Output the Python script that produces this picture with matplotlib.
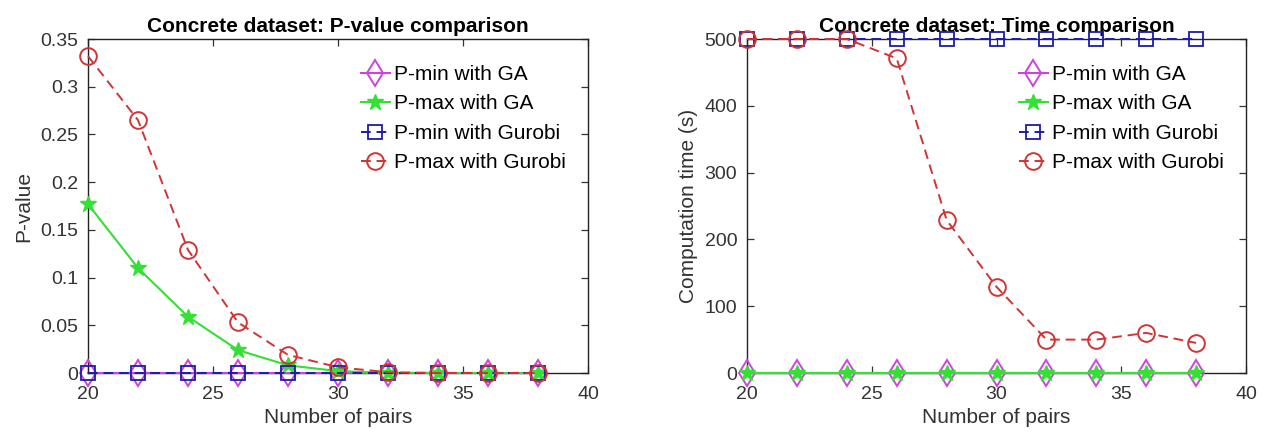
import matplotlib
matplotlib.use("Agg")
import matplotlib.pyplot as plt
from matplotlib.ticker import FixedLocator

plt.rcParams['font.family'] = ['Liberation Sans', 'DejaVu Sans']

pairs = [20, 22, 24, 26, 28, 30, 32, 34, 36, 38]

# P-value panel
pmin_ga_p = [0, 0, 0, 0, 0, 0, 0, 0, 0, 0]
pmax_ga_p = [0.177, 0.110, 0.059, 0.024, 0.008, 0.002, 0.0003, 0, 0, 0]
pmin_gu_p = [0, 0, 0, 0, 0, 0, 0, 0, 0, 0]
pmax_gu_p = [0.332, 0.265, 0.129, 0.053, 0.019, 0.006, 0.0008, 0, 0, 0]

# Time panel
pmin_ga_t = [0, 0, 0, 0, 0, 0, 0, 0, 0, 0]
pmax_ga_t = [0, 0, 0, 0, 0, 0, 0, 0, 0, 0]
pmin_gu_t = [500, 500, 500, 500, 500, 500, 500, 500, 500, 500]
pmax_gu_t = [500, 500, 500, 471, 229, 129, 50, 50, 60, 45]

labels = ["P-min with GA", "P-max with GA", "P-min with Gurobi", "P-max with Gurobi"]
titles = ["Concrete dataset: P-value comparison", "Concrete dataset: Time comparison"]
ylabels = ["P-value", "Computation time (s)"]
xlabel = "Number of pairs"
yticks_p = [0, 0.05, 0.1, 0.15, 0.2, 0.25, 0.3, 0.35]
yticklabels_p = ["0", "0.05", "0.1", "0.15", "0.2", "0.25", "0.3", "0.35"]
yticks_t = [0, 100, 200, 300, 400, 500]
xticks = [20, 25, 30, 35, 40]

c_mag = '#cc44dd'
c_grn = '#33e033'
c_blu = '#1c1ca8'
c_red = '#d03434'
txt = '#333333'

fig = plt.figure(figsize=(12.65, 4.36), dpi=100)
ax1 = fig.add_axes([88/1265, 1-373/436, 500/1265, 334/436])
ax2 = fig.add_axes([747/1265, 1-373/436, 499/1265, 334/436])

def draw(ax, s1, s2, s3, s4):
    ax.plot(pairs, s1, '-', color=c_mag, marker='d', ms=13, mfc='none', mew=1.4,
            lw=1.5, label=labels[0], clip_on=False, zorder=3)
    ax.plot(pairs, s2, '-', color=c_grn, marker='*', ms=12, mew=1.0,
            lw=1.5, label=labels[1], clip_on=False, zorder=4)
    ax.plot(pairs, s3, '--', color=c_blu, marker='s', ms=9.5, mfc='none', mew=1.3,
            lw=1.4, dashes=(5, 3), label=labels[2], clip_on=False, zorder=5)
    ax.plot(pairs, s4, '--', color=c_red, marker='o', ms=12, mfc='none', mew=1.4,
            lw=1.4, dashes=(5, 3), label=labels[3], clip_on=False, zorder=6)

draw(ax1, pmin_ga_p, pmax_ga_p, pmin_gu_p, pmax_gu_p)
draw(ax2, pmin_ga_t, pmax_ga_t, pmin_gu_t, pmax_gu_t)

for ax, t, yl in zip([ax1, ax2], titles, ylabels):
    ax.set_xlim(20, 40)
    ax.xaxis.set_major_locator(FixedLocator(xticks))
    ax.set_title(t, fontsize=15, fontweight='bold', color='black', pad=5)
    ax.set_ylabel(yl, fontsize=15, color=txt, labelpad=5)
    ax.set_xlabel(xlabel, fontsize=15, color=txt, labelpad=4)
    ax.tick_params(direction='in', top=True, right=True, length=5, width=0.9,
                   labelsize=14, colors=txt)
    ax.tick_params(axis='x', pad=9)
    ax.tick_params(axis='y', pad=7)
    for sp in ax.spines.values():
        sp.set_color('#222222')
        sp.set_linewidth(1.0)
    leg = ax.legend(loc='upper right', frameon=False, fontsize=15,
                    handlelength=1.4, handletextpad=0.2, labelspacing=0.5,
                    borderaxespad=0.0, borderpad=0.0,
                    bbox_to_anchor=(1 - 22/500, 1 - 26/334))
    for t_ in leg.get_texts():
        t_.set_color('black')

ax1.set_ylim(0, 0.35)
ax1.yaxis.set_major_locator(FixedLocator(yticks_p))
ax1.set_yticklabels(yticklabels_p)
ax2.set_ylim(0, 500)
ax2.yaxis.set_major_locator(FixedLocator(yticks_t))

fig.savefig("out.png", dpi=100)
